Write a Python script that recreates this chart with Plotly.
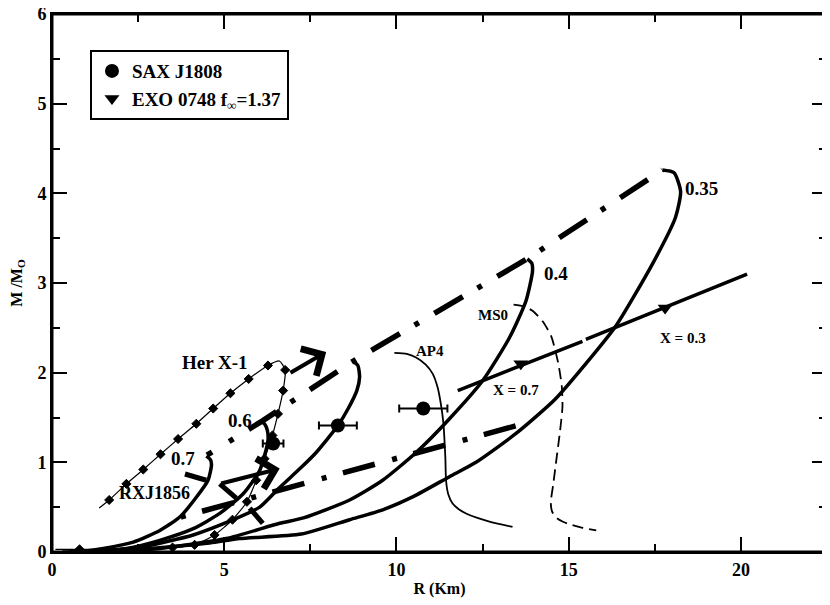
import plotly.graph_objects as go

SERIF = "Liberation Serif"

# solid M-R sequences (thick lines), R in km, M in solar masses
r_07 = [0.3, 0.72, 1.49, 2.36, 3.13, 3.71, 4.19, 4.53, 4.63, 4.6, 4.48]
m_07 = [0.0, 0.0, 0.04, 0.11, 0.24, 0.39, 0.61, 0.8, 0.97, 1.03, 1.07]

r_06 = [0.5, 1.2, 2.17, 3.13, 4.1, 4.87, 5.55, 6.03, 6.27, 6.25, 6.17, 6.05]
m_06 = [0.0, 0.01, 0.04, 0.13, 0.26, 0.43, 0.65, 0.91, 1.24, 1.36, 1.43, 1.46]

r_05 = [0.5, 1.68, 2.65, 4.1, 5.26, 6.03, 6.61, 7.2, 7.67, 8.3, 8.6, 8.85, 8.93, 8.88, 8.73]
m_05 = [0.0, 0.02, 0.06, 0.19, 0.36, 0.5, 0.72, 0.93, 1.11, 1.41, 1.6, 1.8, 1.95, 2.08, 2.13]

r_04 = [0.5, 1.5, 3.13, 5.06, 6.61, 7.3, 8.64, 9.6, 10.57, 11.5, 12.5, 13.28, 13.76, 13.95, 13.93, 13.8]
m_04 = [0.0, 0.01, 0.04, 0.15, 0.32, 0.38, 0.58, 0.8, 1.11, 1.47, 1.91, 2.39, 2.8, 3.13, 3.22, 3.27]

r_035 = [0.5, 1.5, 2.84, 4.58, 5.45, 7.24, 8.64, 9.6, 10.5, 11.54, 12.31, 13.5, 14.6, 15.5,
         16.37, 17.43, 18.1, 18.25, 18.06, 17.72]
m_035 = [0.0, 0.01, 0.04, 0.1, 0.15, 0.2, 0.36, 0.47, 0.62, 0.84, 1.0, 1.33, 1.7, 2.1,
         2.52, 3.21, 3.73, 4.02, 4.23, 4.26]

# Her X-1 sequence (thin line with diamonds)
r_her = [1.37, 1.66, 2.16, 2.65, 3.15, 3.66, 4.19, 4.68, 5.18, 5.71, 6.27, 6.6, 6.77, 6.71,
         6.56, 6.4, 6.17, 5.93, 5.66, 5.24, 4.72, 4.14, 3.5, 2.4, 1.4, 0.8, 0.1]
m_her = [0.49, 0.58, 0.76, 0.92, 1.09, 1.26, 1.43, 1.6, 1.77, 1.93, 2.08, 2.13, 2.03, 1.8,
         1.54, 1.3, 1.04, 0.8, 0.56, 0.36, 0.19, 0.08, 0.05, 0.03, 0.03, 0.03, 0.03]
her_marked = [0, 1, 1, 1, 1, 1, 1, 1, 1, 1, 1, 0, 1, 1,
              1, 1, 1, 1, 1, 1, 1, 1, 1, 0, 0, 1, 0]

# AP4 and MS0 EOS curves
r_ap4 = [9.94, 10.3, 10.57, 10.85, 11.05, 11.2, 11.29, 11.36, 11.39, 11.42, 11.44, 11.5,
         11.63, 11.8, 12.02, 12.35, 12.7, 13.37]
m_ap4 = [2.22, 2.21, 2.17, 2.09, 1.99, 1.83, 1.65, 1.45, 1.28, 1.05, 0.8, 0.65,
         0.54, 0.48, 0.43, 0.38, 0.34, 0.28]

r_ms0 = [13.4, 13.7, 13.95, 14.25, 14.5, 14.7, 14.8, 14.82, 14.75, 14.65, 14.55, 14.48,
         14.52, 14.65, 14.82, 15.1, 15.4, 15.8]
m_ms0 = [2.76, 2.74, 2.69, 2.57, 2.4, 2.1, 1.85, 1.62, 1.35, 1.05, 0.75, 0.55,
         0.45, 0.38, 0.34, 0.3, 0.27, 0.24]

# dash-dot lines (maximum masses and lower sequence)
r_max = [4.5, 6.1, 8.75, 13.8, 17.72]
m_max = [1.08, 1.46, 2.13, 3.27, 4.26]
r_low = [3.74, 13.5]
m_low = [0.39, 1.41]

# constant X lines through EXO 0748
r_x07 = [11.78, 15.4]
m_x07 = [1.8, 2.35]
r_x03 = [15.5, 20.18]
m_x03 = [2.37, 3.1]

# observations
r_sax = [6.42, 8.3, 10.78]
m_sax = [1.21, 1.41, 1.6]
dr_sax = [0.3, 0.55, 0.7]
r_exo = [13.61, 17.8]
m_exo = [2.1, 2.72]

# arrows and thick strokes: (r0, m0, r1, m1)
arrows = [(6.88, 1.99, 7.96, 2.23), (4.87, 0.76, 6.61, 0.93)]
strokes = [(5.35, 0.6, 4.87, 0.76), (3.86, 0.87, 4.48, 0.8), (5.74, 0.49, 6.12, 0.32)]

# text labels: (text, r, m, size)
labels = [
    ("Her X-1", 4.72, 2.11, 19), ("0.6", 5.46, 1.47, 19), ("0.7", 3.8, 1.04, 19),
    ("RXJ1856", 2.99, 0.66, 18), ("AP4", 10.96, 2.24, 15), ("MS0", 12.81, 2.64, 15),
    ("0.4", 14.64, 3.11, 19), ("0.35", 18.87, 4.05, 19),
    ("X = 0.7", 13.48, 1.81, 15), ("X = 0.3", 18.32, 2.39, 15),
]

x_range = [0, 22.5]
y_range = [0, 6]
x_ticks = [0, 5, 10, 15, 20]
y_ticks = [0, 1, 2, 3, 4, 5, 6]

fig = go.Figure()

for rr, mm in [(r_07, m_07), (r_06, m_06), (r_05, m_05), (r_04, m_04), (r_035, m_035)]:
    fig.add_trace(go.Scatter(x=rr, y=mm, mode="lines", showlegend=False,
                             line=dict(color="black", width=3.5, shape="spline", smoothing=0.6)))

fig.add_trace(go.Scatter(x=r_her, y=m_her, mode="lines+markers", showlegend=False,
                         line=dict(color="black", width=1.2, shape="spline", smoothing=0.6),
                         marker=dict(symbol="diamond", color="black", opacity=1,
                                     line=dict(color="black", width=1),
                                     size=[7 if k else 0 for k in her_marked])))

fig.add_trace(go.Scatter(x=r_ap4, y=m_ap4, mode="lines", showlegend=False,
                         line=dict(color="black", width=1.8, shape="spline", smoothing=0.6)))
fig.add_trace(go.Scatter(x=r_ms0, y=m_ms0, mode="lines", showlegend=False,
                         line=dict(color="black", width=1.8, dash="11px,6px",
                                   shape="spline", smoothing=0.6)))

dash_max = "6px,20px,5px,18px," + "33px,17px,5px,18px," * 9
fig.add_trace(go.Scatter(x=r_max, y=m_max, mode="lines", showlegend=False,
                         line=dict(color="black", width=5.5, dash=dash_max.rstrip(","))))
fig.add_trace(go.Scatter(x=r_low, y=m_low, mode="lines", showlegend=False,
                         line=dict(color="black", width=5.5, dash="5px,17px,33px,18px")))

for rr, mm in [(r_x07, m_x07), (r_x03, m_x03)]:
    fig.add_trace(go.Scatter(x=rr, y=mm, mode="lines", showlegend=False,
                             line=dict(color="black", width=3.5)))

for r0, m0, r1, m1 in strokes:
    fig.add_trace(go.Scatter(x=[r0, r1], y=[m0, m1], mode="lines", showlegend=False,
                             line=dict(color="black", width=5)))

fig.add_trace(go.Scatter(
    x=r_sax, y=m_sax, mode="markers", name="<b>SAX J1808</b>",
    marker=dict(symbol="circle", color="black", size=14),
    error_x=dict(type="data", array=dr_sax, color="black", thickness=2, width=4),
))
fig.add_trace(go.Scatter(
    x=r_exo, y=m_exo, mode="markers", name="<b>EXO 0748 f<sub>∞</sub>=1.37</b>",
    marker=dict(symbol="triangle-down", color="black", size=13),
))

for r0, m0, r1, m1 in arrows:
    fig.add_annotation(x=r1, y=m1, ax=r0, ay=m0, xref="x", yref="y", axref="x", ayref="y",
                       text="", showarrow=True, arrowhead=4, arrowsize=1.5,
                       arrowwidth=4, arrowcolor="black")

for txt, rr, mm, sz in labels:
    fig.add_annotation(x=rr, y=mm, xref="x", yref="y", text=f"<b>{txt}</b>", showarrow=False,
                       font=dict(family=SERIF, size=sz, color="black"))

# plot frame
fig.add_shape(type="rect", xref="paper", yref="paper", x0=0, x1=1, y0=0, y1=1,
              line=dict(color="black", width=3), layer="above")

axis_common = dict(
    showline=True, linecolor="black", linewidth=2, mirror="allticks",
    ticks="inside", ticklen=15, tickwidth=2, tickcolor="black",
    showgrid=False, zeroline=False, automargin=False, ticklabeloverflow="allow",
    tickfont=dict(family=SERIF, size=18, color="black"),
)

# the page body adds an 8px offset, so margins are shifted to keep the frame in place
fig.update_layout(
    width=830, height=605,
    margin=dict(l=44, r=11, t=6, b=61),
    paper_bgcolor="white", plot_bgcolor="white",
    xaxis=dict(range=x_range, tickvals=x_ticks, ticktext=[f"<b>{v}</b>" for v in x_ticks],
               minor=dict(ticks="inside", ticklen=8, dtick=2.5, tickwidth=2, tickcolor="black"),
               title=dict(text="<b>R (Km)</b>", standoff=4,
                          font=dict(family=SERIF, size=16, color="black")),
               **axis_common),
    yaxis=dict(range=y_range, tickvals=y_ticks, ticktext=[f"<b>{v}</b>" for v in y_ticks],
               minor=dict(ticks="inside", ticklen=8, dtick=0.5, tickwidth=2, tickcolor="black"),
               title=dict(text="<b>M /M<sub>O</sub></b>", standoff=12,
                          font=dict(family=SERIF, size=16, color="black")),
               **axis_common),
    legend=dict(x=0.049, y=0.933, xanchor="left", yanchor="top",
                bordercolor="black", borderwidth=2, bgcolor="white",
                font=dict(family=SERIF, size=19, color="black"),
                tracegroupgap=0),
)

fig.write_html("out.html")
